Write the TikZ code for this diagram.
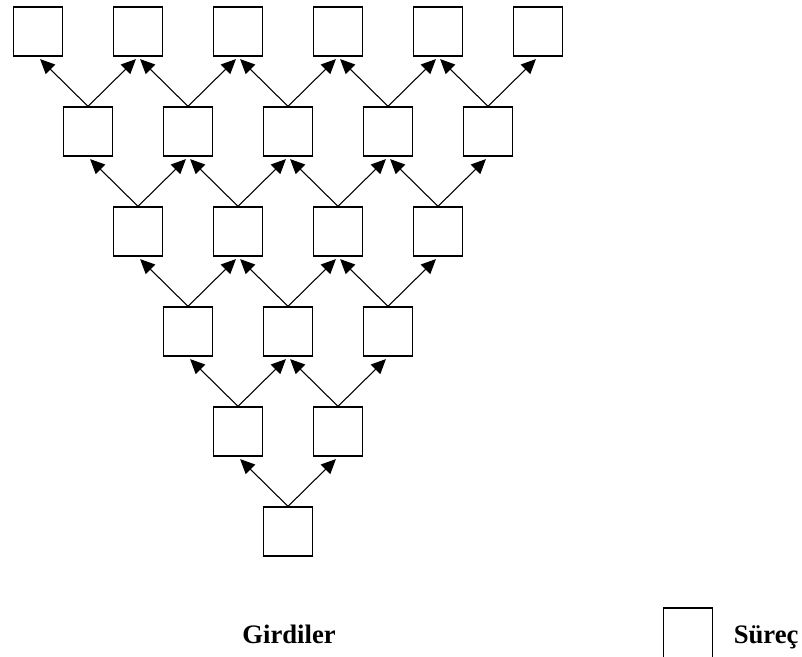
\documentclass[tikz,border=0pt]{standalone}
\usepackage{fontspec}
\setmainfont{Liberation Serif}
\usetikzlibrary{arrows.meta}

\begin{document}
\begin{tikzpicture}[x=7.5pt,y=7.5pt]
		\tikzstyle{proc}=[draw, line width=1.2pt, minimum size=36.8pt, inner sep=0pt]
		\tikzstyle{link}=[line width=0.8pt, -{Triangle[length=11pt,width=10pt]}, shorten >=2.2pt]
		\tikzstyle{lbl}=[inner sep=0pt, anchor=base, font=\fontsize{20}{24}\selectfont\bfseries]
		\useasboundingbox (0,0) rectangle (80.2,-65.6);
		\node [proc] (a1) at (3.8,-3.17) {};
		\node [proc] (a2) at (13.8,-3.17) {};
		\node [proc] (a3) at (23.8,-3.17) {};
		\node [proc] (a4) at (33.8,-3.17) {};
		\node [proc] (a5) at (43.8,-3.17) {};
		\node [proc] (a6) at (53.8,-3.17) {};
		\node [proc] (b1) at (8.8,-13.17) {};
		\node [proc] (b2) at (18.8,-13.17) {};
		\node [proc] (b3) at (28.8,-13.17) {};
		\node [proc] (b4) at (38.8,-13.17) {};
		\node [proc] (b5) at (48.8,-13.17) {};
		\node [proc] (c1) at (13.8,-23.17) {};
		\node [proc] (c2) at (23.8,-23.17) {};
		\node [proc] (c3) at (33.8,-23.17) {};
		\node [proc] (c4) at (43.8,-23.17) {};
		\node [proc] (d1) at (18.8,-33.17) {};
		\node [proc] (d2) at (28.8,-33.17) {};
		\node [proc] (d3) at (38.8,-33.17) {};
		\node [proc] (e1) at (23.8,-43.17) {};
		\node [proc] (e2) at (33.8,-43.17) {};
		\node [proc] (f) at (28.8,-53.17) {};
		\draw [link] (f.north) -- (e1.south);
		\draw [link] (f.north) -- (e2.south);
		\draw [link] (e1.north) -- (d1.south);
		\draw [link] (e1.north) -- (d2.south);
		\draw [link] (e2.north) -- (d2.south);
		\draw [link] (e2.north) -- (d3.south);
		\draw [link] (d1.north) -- (c1.south);
		\draw [link] (d1.north) -- (c2.south);
		\draw [link] (d2.north) -- (c2.south);
		\draw [link] (d2.north) -- (c3.south);
		\draw [link] (d3.north) -- (c3.south);
		\draw [link] (d3.north) -- (c4.south);
		\draw [link] (c1.north) -- (b1.south);
		\draw [link] (c1.north) -- (b2.south);
		\draw [link] (c2.north) -- (b2.south);
		\draw [link] (c2.north) -- (b3.south);
		\draw [link] (c3.north) -- (b3.south);
		\draw [link] (c3.north) -- (b4.south);
		\draw [link] (c4.north) -- (b4.south);
		\draw [link] (c4.north) -- (b5.south);
		\draw [link] (b1.north) -- (a1.south);
		\draw [link] (b1.north) -- (a2.south);
		\draw [link] (b2.north) -- (a2.south);
		\draw [link] (b2.north) -- (a3.south);
		\draw [link] (b3.north) -- (a3.south);
		\draw [link] (b3.north) -- (a4.south);
		\draw [link] (b4.north) -- (a4.south);
		\draw [link] (b4.north) -- (a5.south);
		\draw [link] (b5.north) -- (a5.south);
		\draw [link] (b5.north) -- (a6.south);
		% legend
		\node [lbl] (girdi) at (28.9,-64.33) {Girdiler};
		\node [proc, minimum height=39pt] (k) at (68.8,-63.37) {};
		\node [lbl, anchor=base west] (surec) at (73.35,-64.33) {Süreç};
\end{tikzpicture}
\end{document}
